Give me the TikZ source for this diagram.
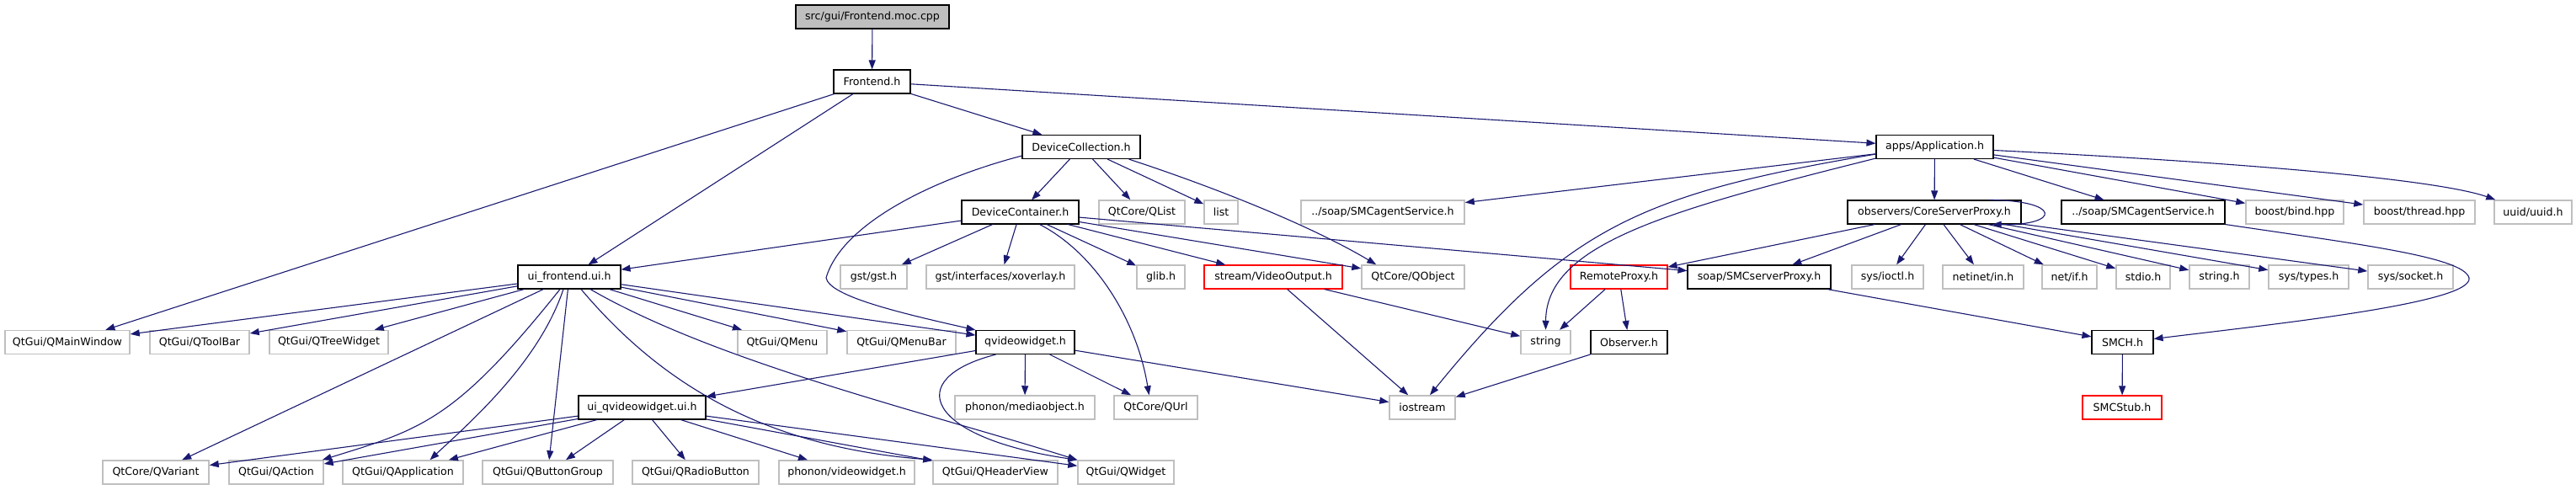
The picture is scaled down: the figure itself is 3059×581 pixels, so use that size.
\documentclass[tikz,border=0pt]{standalone}
\usepackage{fontspec}
\setmainfont{DejaVu Sans}
\usetikzlibrary{arrows.meta,calc}
\definecolor{edgec}{HTML}{191970}
\definecolor{grayb}{HTML}{BFBFBF}
\definecolor{rootf}{HTML}{BFBFBF}
\begin{document}
\begin{tikzpicture}[x=1pt,y=-1pt,
 nd/.style={draw=black,line width=1.1pt,fill=white,minimum height=28pt,inner sep=0pt,font=\fontsize{12.6}{14}\selectfont},
 gnd/.style={nd,draw=grayb,line width=1.5pt},
 rnd/.style={nd,draw=red},
 rootnd/.style={nd,fill=rootf},
 e/.style={draw=edgec,line width=1.1pt,-{Triangle[length=11pt,width=8pt]}},
]
\useasboundingbox (0,0) rectangle (3059,581);
% row 0-1
\node[rootnd,minimum width=182pt] (root) at (1036,20) {src/gui/Frontend.moc.cpp};
\node[nd,minimum width=91pt] (fe) at (1035.5,97) {Frontend.h};
% row 2
\node[nd,minimum width=140pt] (dcoll) at (1284,174.5) {DeviceCollection.h};
\node[nd,minimum width=139pt] (app) at (2297.5,174.5) {apps/Application.h};
% row 3
\node[nd,minimum width=139pt] (dcont) at (1211.5,252) {DeviceContainer.h};
\node[gnd,minimum width=102pt] (qlist) at (1356,252) {QtCore/QList};
\node[gnd,minimum width=40pt] (list) at (1450,252) {list};
\node[gnd,minimum width=194pt] (sagray) at (1642,252) {../soap/SMCagentService.h};
\node[nd,minimum width=206pt] (csp) at (2297,252) {observers/CoreServerProxy.h};
\node[nd,minimum width=194pt] (sablk) at (2545,252) {../soap/SMCagentService.h};
\node[gnd,minimum width=116pt] (bind) at (2725,252) {boost/bind.hpp};
\node[gnd,minimum width=132pt] (thread) at (2873,252) {boost/thread.hpp};
\node[gnd,minimum width=92pt] (uuid) at (3008,252) {uuid/uuid.h};
% row 4
\node[nd,minimum width=122pt] (uif) at (676,329) {ui\_frontend.ui.h};
\node[gnd,minimum width=79pt] (gst) at (1037.5,329) {gst/gst.h};
\node[gnd,minimum width=176pt] (xov) at (1188,329) {gst/interfaces/xoverlay.h};
\node[gnd,minimum width=57pt] (glib) at (1378.5,329) {glib.h};
\node[rnd,minimum width=164pt] (vo) at (1512,329) {stream/VideoOutput.h};
\node[gnd,minimum width=122pt] (qobj) at (1678,329) {QtCore/QObject};
\node[rnd,minimum width=115pt] (rp) at (1922.5,329) {RemoteProxy.h};
\node[nd,minimum width=170pt] (scp) at (2089,329) {soap/SMCserverProxy.h};
\node[gnd,minimum width=85pt] (ioctl) at (2241.5,329) {sys/ioctl.h};
\node[gnd,minimum width=96pt] (netin) at (2355,329) {netinet/in.h};
\node[gnd,minimum width=65pt] (netif) at (2457.5,329) {net/if.h};
\node[gnd,minimum width=64pt] (stdio) at (2545,329) {stdio.h};
\node[gnd,minimum width=71pt] (strh) at (2635.5,329) {string.h};
\node[gnd,minimum width=95pt] (types) at (2741.5,329) {sys/types.h};
\node[gnd,minimum width=101pt] (sock) at (2862.5,329) {sys/socket.h};
% row 5
\node[gnd,minimum width=148pt] (qmw) at (80,406.5) {QtGui/QMainWindow};
\node[gnd,minimum width=118pt] (qtb) at (237,406.5) {QtGui/QToolBar};
\node[gnd,minimum width=141pt] (qtw) at (390.5,406.5) {QtGui/QTreeWidget};
\node[gnd,minimum width=106pt] (qmenu) at (929,406.5) {QtGui/QMenu};
\node[gnd,minimum width=129pt] (qmb) at (1070.5,406.5) {QtGui/QMenuBar};
\node[nd,minimum width=117pt] (qvw) at (1217.5,406.5) {qvideowidget.h};
\node[gnd,minimum width=59pt] (string) at (1835.5,406.5) {string};
\node[nd,minimum width=91pt] (obs) at (1934.5,406.5) {Observer.h};
\node[nd,minimum width=73pt] (smch) at (2520.5,406.5) {SMCH.h};
% row 6
\node[nd,minimum width=151pt] (uiq) at (762.5,484) {ui\_qvideowidget.ui.h};
\node[gnd,minimum width=166pt] (pmo) at (1217,484) {phonon/mediaobject.h};
\node[gnd,minimum width=99pt] (qurl) at (1372.5,484) {QtCore/QUrl};
\node[gnd,minimum width=78pt] (ios) at (1689,484) {iostream};
\node[rnd,minimum width=94pt] (stub) at (2520,484) {SMCStub.h};
% row 7
\node[gnd,minimum width=126pt] (qvar) at (185,561) {QtCore/QVariant};
\node[gnd,minimum width=112pt] (qact) at (328,561) {QtGui/QAction};
\node[gnd,minimum width=143pt] (qapp) at (478.5,561) {QtGui/QApplication};
\node[gnd,minimum width=155pt] (qbg) at (650.5,561) {QtGui/QButtonGroup};
\node[gnd,minimum width=150pt] (qrb) at (826,561) {QtGui/QRadioButton};
\node[gnd,minimum width=161pt] (pvw) at (1005.5,561) {phonon/videowidget.h};
\node[gnd,minimum width=148pt] (qhv) at (1182,561) {QtGui/QHeaderView};
\node[gnd,minimum width=114pt] (qwid) at (1337,561) {QtGui/QWidget};

% straight edges
\foreach \a/\b in {root/fe, fe/qmw, fe/uif, fe/dcoll, fe/app,
 dcoll/dcont, dcoll/qlist, dcoll/list,
 dcont/uif, dcont/gst, dcont/xov, dcont/glib, dcont/vo, dcont/qobj, dcont/scp,
 app/sagray, app/csp, app/sablk, app/bind, app/thread,
 csp/rp, csp/scp, csp/ioctl, csp/netin, csp/netif, csp/stdio, csp/strh, csp/types, csp/sock,
 rp/string, rp/obs, obs/ios, vo/string, vo/ios, scp/smch, smch/stub,
 uif/qmw, uif/qtb, uif/qtw, uif/qvar, uif/qbg, uif/qmenu, uif/qmb, uif/qvw,
 qvw/uiq, qvw/pmo, qvw/qurl, qvw/ios,
 uiq/qvar, uiq/qact, uiq/qapp, uiq/qbg, uiq/qrb, uiq/pvw, uiq/qhv, uiq/qwid}
 {\draw[e] (\a) -- (\b);}

% curved edges
\draw[e] ([yshift=4pt]dcoll.south west) .. controls (1110,212) and (1000,265) .. (981,330)
  .. controls (985,352) and (1070,372) .. (qvw.north west);
\draw[e] ([xshift=-14pt]dcoll.south east) .. controls (1450,225) and (1560,270) .. ([xshift=18pt]qobj.north west);
\draw[e] ([xshift=23pt]dcont.south) .. controls (1300,300) and (1350,380) .. ([xshift=-8pt]qurl.north);
\draw[e] ([yshift=6pt]app.south west) .. controls (1950,230) and (1860,270) .. ([xshift=9pt]ios.north);
\draw[e] ([yshift=1pt]app.south west) .. controls (1980,250) and (1836,290) .. (string.north);
\draw[e] ([yshift=-4pt]app.east) .. controls (2700,195) and (2900,215) .. ([xshift=2pt]uuid.north west);
\draw[e] ([xshift=-11pt]uif.south) .. controls (540,500) and (500,510) .. ([xshift=-2pt]qact.north east);
\draw[e] ([xshift=-7pt]uif.south) .. controls (640,430) and (560,500) .. ([xshift=32pt]qapp.north);
\draw[e] ([xshift=14pt]uif.south) .. controls (780,450) and (900,530) .. (qhv.north west);
\draw[e] ([xshift=25pt]uif.south) .. controls (850,430) and (1100,490) .. (qwid.north west);
\draw[e] ([xshift=-35pt]qvw.south) .. controls (1070,450) and (1100,520) .. (qwid.north west);
\draw[e] ([xshift=-39pt]csp.north east) .. controls (2448,238) and (2448,268) .. ([xshift=-35pt]csp.south east);
\draw[e] (sablk.south east) .. controls (2800,290) and (2925,305) .. (2932,330)
  .. controls (2938,360) and (2700,385) .. ([yshift=4pt]smch.east);
\end{tikzpicture}
\end{document}
